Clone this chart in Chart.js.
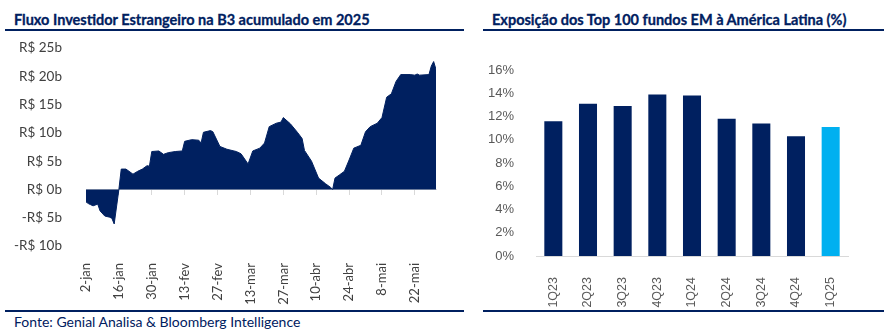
<!DOCTYPE html>
<html lang="pt-BR">
<head>
<meta charset="utf-8">
<script src="https://cdn.jsdelivr.net/npm/chart.js@4.4.1/dist/chart.umd.min.js"></script>
<style>
  html, body { margin: 0; padding: 0; background: #fff; }
  #painel { position: relative; width: 885px; height: 331px; overflow: hidden; font-family: Lato, sans-serif; }
  .titulo { position: absolute; top: 11px; font-weight: bold; font-size: 14.5px; color: #002060; white-space: nowrap; -webkit-text-stroke: 0.3px #002060; }
  .linha { position: absolute; height: 2px; background: #002060; }
  canvas { position: absolute; top: 0; }
  #fonte { position: absolute; left: 14px; top: 313px; font-size: 14px; color: #002060; white-space: nowrap; }
</style>
</head>
<body>
<div id="painel">
  <div class="titulo" style="left:14px">Fluxo Investidor Estrangeiro na B3 acumulado em 2025</div>
  <div class="titulo" style="left:492px">Exposição dos Top 100 fundos EM à América Latina (%)</div>
  <div class="linha" style="left:5px; width:459px; top:29px"></div>
  <div class="linha" style="left:483px; width:401px; top:29px"></div>
  <canvas id="gFluxo" width="460" height="311" style="left:0"></canvas>
  <canvas id="gExpo" width="425" height="311" style="left:460px"></canvas>
  <div class="linha" style="left:5px; width:459px; top:310px"></div>
  <div class="linha" style="left:483px; width:401px; top:310px"></div>
  <div id="fonte">Fonte: Genial Analisa &amp; Bloomberg Intelligence</div>
</div>
<script>
// --- fluxo acumulado (dias corridos desde 2-jan, R$ bilhões) ---
const diasFluxo = [0, 1, 2, 3, 5, 6, 8, 10, 11, 12, 14, 15, 17, 20, 22, 24, 26, 27, 28, 31,
  33, 35, 38, 41, 42, 45, 48, 49, 50, 53, 54, 57, 60, 63, 64, 66, 69, 71, 74, 76,
  78, 81, 83, 84, 87, 90, 92, 93, 96, 99, 102, 104, 105, 106, 108, 110, 112, 114, 117, 119,
  121, 124, 126, 128, 130, 132, 134, 138, 140, 141, 142, 146, 147, 148, 149];
const fluxoAcum = [-2.2, -2.5, -2.7, -2.9, -2.6, -3.8, -4.7, -4.9, -5.1, -6.1, 0, 3.6, 3.6, 2.7, 3.2, 3.6, 4.2, 4.1, 6.7, 6.8,
  6.2, 6.5, 6.7, 6.8, 8.5, 8.8, 8.7, 8.2, 10.1, 10.4, 10.2, 7.6, 7.1, 6.8, 6.7, 6.3, 4.5, 6.8, 7.3, 8.2,
  11.1, 11.7, 11.9, 12.7, 11.6, 10.1, 9.0, 6.9, 5.0, 2.0, 1.0, 0.4, 0, 2.0, 2.6, 3.2, 5.2, 7.3, 7.8, 10.2,
  11.1, 11.7, 12.7, 16.3, 16.9, 19.1, 20.3, 20.3, 20.2, 20.4, 20.2, 20.3, 21.8, 22.6, 21.2];
const rotulosDatas = ['2-jan', '16-jan', '30-jan', '13-fev', '27-fev', '13-mar', '27-mar', '10-abr', '24-abr', '8-mai', '22-mai'];
const passoDatas = 14;

// --- exposição à América Latina (%) ---
const trimestres = ['1Q23', '2Q23', '3Q23', '4Q23', '1Q24', '2Q24', '3Q24', '4Q24', '1Q25'];
const exposicao = [11.6, 13.1, 12.9, 13.9, 13.8, 11.8, 11.4, 10.3, 11.1];

const AZUL = '#002060';
const AZUL_CLARO = '#00B0F0';
const CINZA_EIXO = '#d9d9d9';

Chart.defaults.animation = false;

const ultimoDia = diasFluxo[diasFluxo.length - 1];

new Chart(document.getElementById('gFluxo'), {
  type: 'line',
  data: {
    datasets: [{
      data: diasFluxo.map((d, i) => ({ x: d, y: fluxoAcum[i] })),
      fill: 'origin',
      backgroundColor: AZUL,
      borderColor: AZUL,
      borderWidth: 1,
      pointRadius: 0,
      tension: 0
    }]
  },
  options: {
    responsive: false,
    layout: { padding: { top: 48, right: 24, bottom: 0, left: 0 } },
    plugins: { legend: { display: false }, tooltip: { enabled: false } },
    scales: {
      x: {
        type: 'linear', min: 0, max: ultimoDia,
        grid: { display: false },
        border: { display: false },
        ticks: {
          stepSize: passoDatas, includeBounds: false,
          minRotation: 90, maxRotation: 90, padding: 9,
          color: '#404040', font: { family: 'Lato', size: 13 },
          callback: v => rotulosDatas[v / passoDatas] ?? ''
        },
        afterFit: s => { s.height = 65; }
      },
      // eixo que cruza no zero, só com as marcas
      xZero: {
        type: 'linear', min: 0, max: ultimoDia,
        position: { y: 0 },
        grid: { display: true, drawOnChartArea: false, drawTicks: true, tickLength: 5, color: CINZA_EIXO },
        border: { display: true, color: CINZA_EIXO },
        ticks: { display: false, stepSize: passoDatas, includeBounds: false }
      },
      y: {
        min: -10, max: 25,
        grid: { display: false },
        border: { display: false },
        ticks: {
          stepSize: 5, padding: 16,
          color: '#404040', font: { family: 'Lato', size: 13.5 },
          callback: v => (v < 0 ? '-' : '') + 'R$ ' + Math.abs(v) + 'b'
        },
        afterFit: s => { s.width = 86; }
      }
    }
  }
});

new Chart(document.getElementById('gExpo'), {
  type: 'bar',
  data: {
    labels: trimestres,
    datasets: [{
      data: exposicao,
      backgroundColor: trimestres.map((t, i) => i === trimestres.length - 1 ? AZUL_CLARO : AZUL),
      categoryPercentage: 1,
      barPercentage: 0.52
    }]
  },
  options: {
    responsive: false,
    layout: { padding: { top: 70, right: 37, bottom: 0, left: 0 } },
    plugins: { legend: { display: false }, tooltip: { enabled: false } },
    scales: {
      x: {
        grid: { display: false },
        border: { display: true, color: CINZA_EIXO },
        ticks: {
          minRotation: 90, maxRotation: 90, padding: 13,
          color: '#595959', font: { family: 'Liberation Sans', size: 12.5 }
        },
        afterFit: s => { s.height = 55; }
      },
      y: {
        min: 0, max: 16,
        grid: { display: false },
        border: { display: false },
        ticks: {
          stepSize: 2, padding: 14,
          color: '#595959', font: { family: 'Liberation Sans', size: 13 },
          callback: v => v + '%'
        },
        afterFit: s => { s.width = 76; }
      }
    }
  }
});
</script>
</body>
</html>
